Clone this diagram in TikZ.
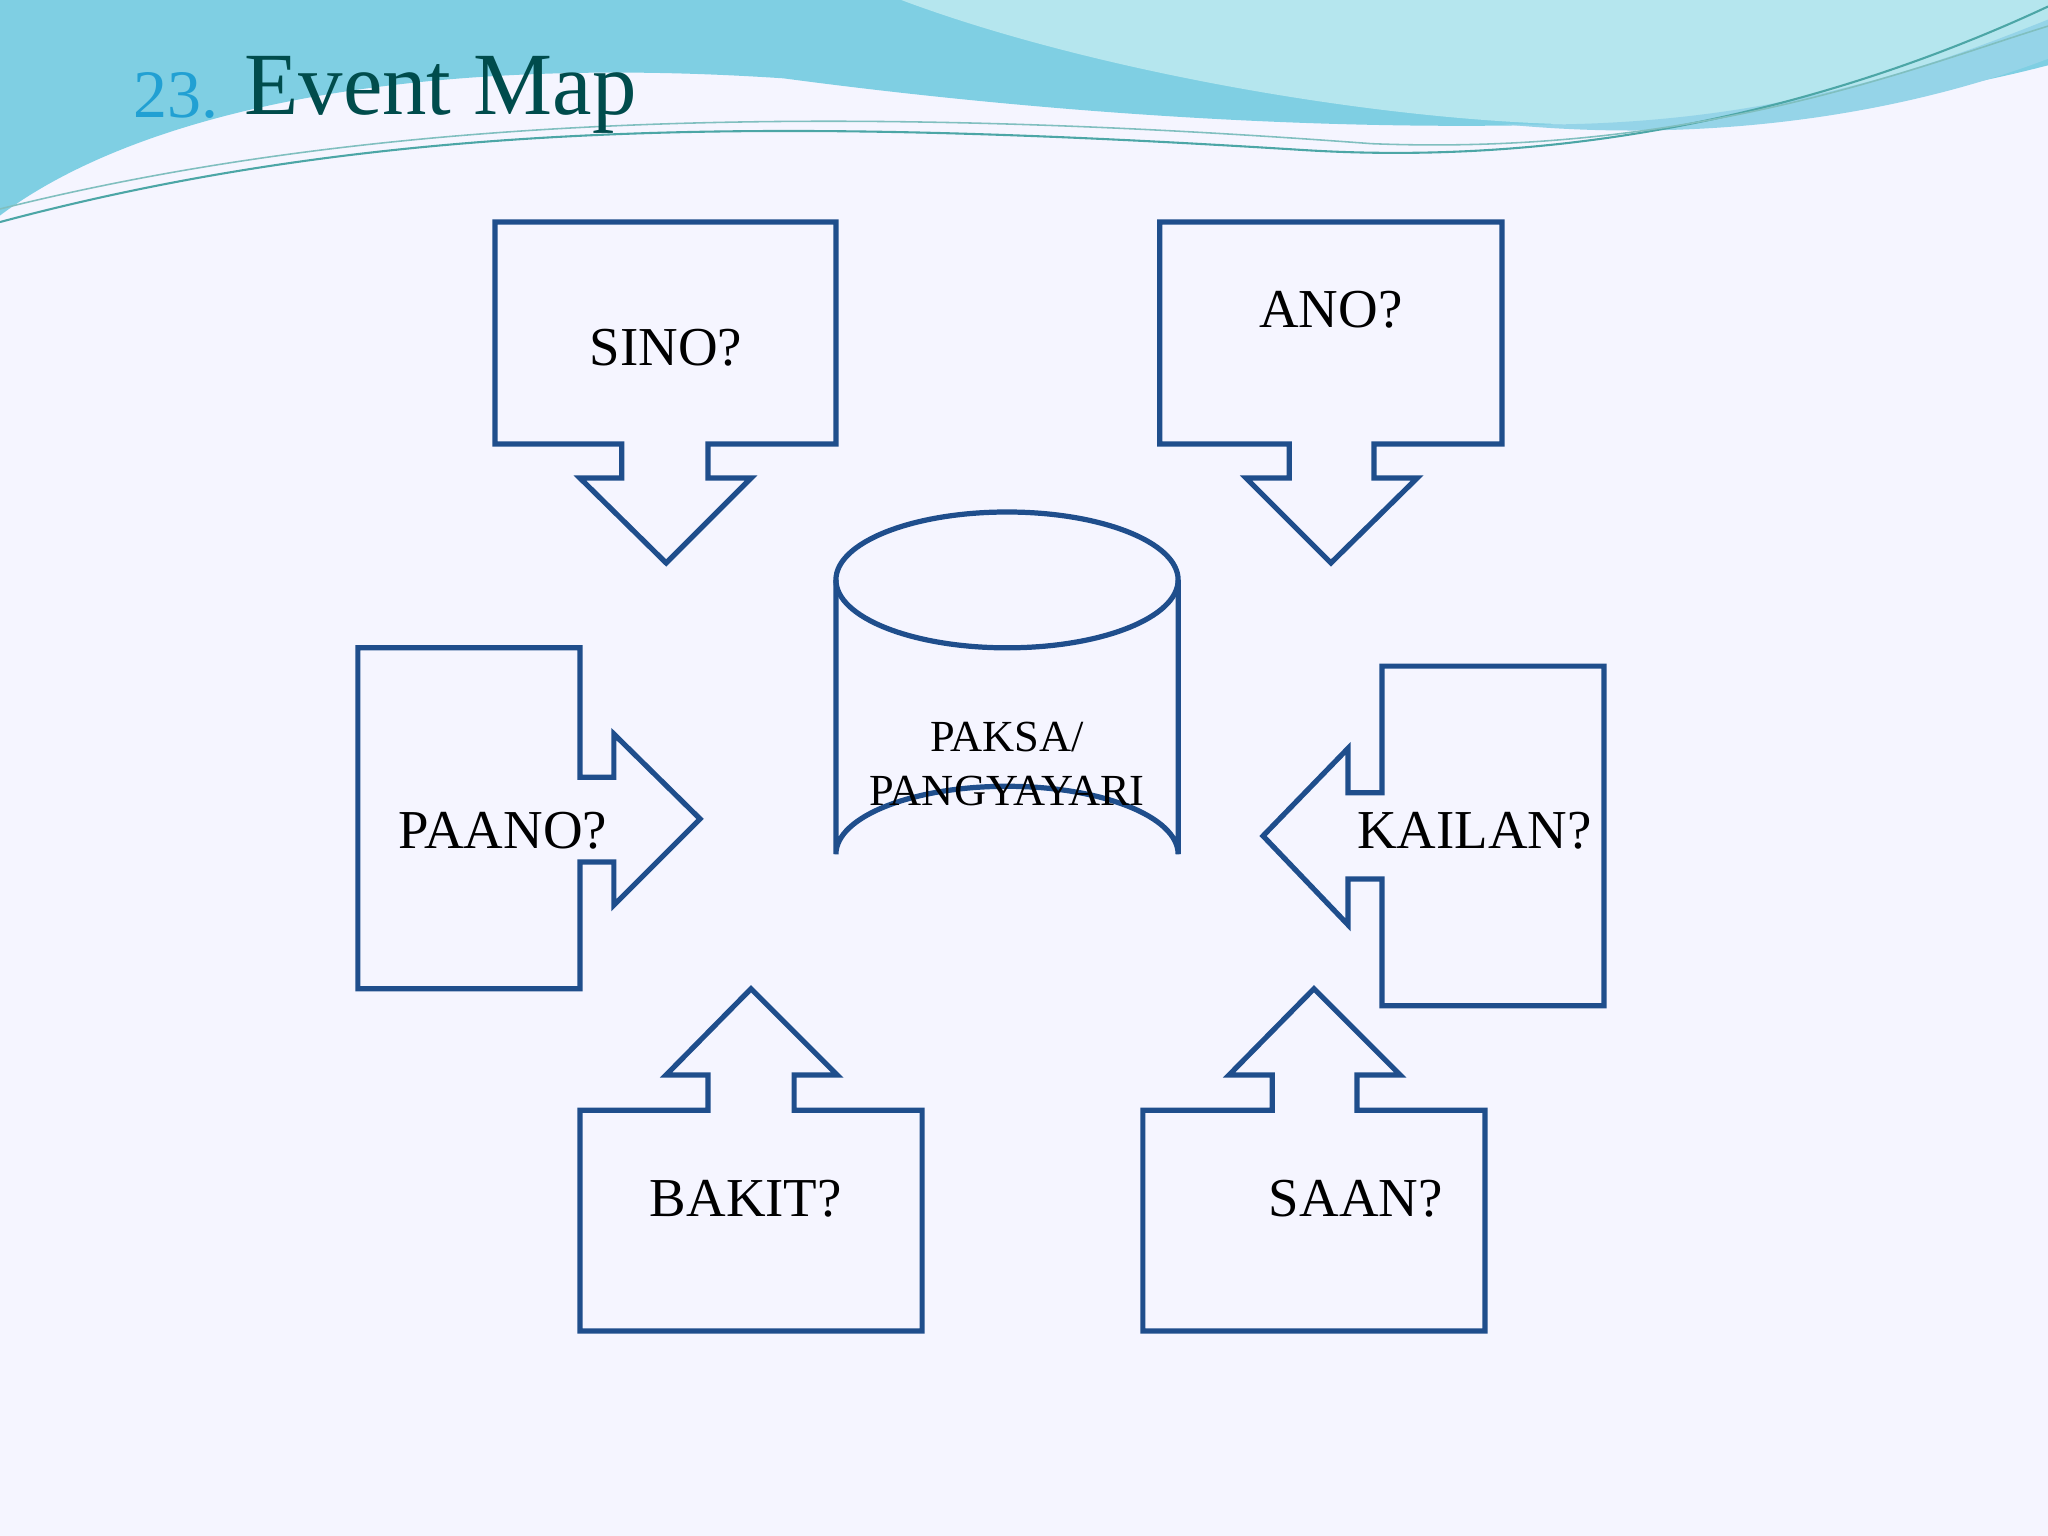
\documentclass[tikz,border=0pt]{standalone}
\usepackage{fontspec}
\setmainfont{Liberation Serif}
\begin{document}
\begin{tikzpicture}[x=0.5pt,y=-0.5pt,
  callout/.style={draw=myblue,line width=2pt,line join=miter},
  lbl/.style={font=\fontsize{21}{24}\selectfont,text=black}]
\definecolor{myblue}{HTML}{1F4E8C}
\definecolor{wave1}{HTML}{7FCFE3}
\definecolor{wave2}{HTML}{B5E6EE}
\definecolor{wave3}{HTML}{4FB8D8}
\fill[white!96!blue] (0,0) rectangle (1568,1176);
\useasboundingbox (0,0) rectangle (1568,1176);
% header waves
\fill[wave1] (0,0) -- (1568,0) -- (1568,50) .. controls (1300,120) and (900,100) .. (600,60) .. controls (300,40) and (100,90) .. (0,165) -- cycle;
\fill[wave2] (690,0) .. controls (850,60) and (1100,100) .. (1250,95) .. controls (1400,90) and (1500,40) .. (1568,20) -- (1568,0) -- cycle;
\fill[wave3!60] (1150,95) .. controls (1350,100) and (1480,50) .. (1568,15) -- (1568,45) .. controls (1450,90) and (1300,110) .. (1150,95) -- cycle;
\draw[teal!70,line width=0.8pt] (0,170) .. controls (300,90) and (600,90) .. (1000,115) .. controls (1250,130) and (1450,60) .. (1568,5);
\draw[teal!50,line width=0.6pt] (0,160) .. controls (300,85) and (650,80) .. (1050,110) .. controls (1300,120) and (1470,50) .. (1568,20);
\node[anchor=base west,font=\fontsize{26}{30}\selectfont,text=cyan!70!teal] (num) at (95,90) {23.};
\node[anchor=base west,font=\fontsize{34}{40}\selectfont,text=teal!60!black] (title) at (180,88) {Event Map};
% SINO
\draw[callout] (379,170) -- (640,170) -- (640,340) -- (542,340) -- (542,366) -- (575,366) -- (510,431) -- (444,366) -- (476,366) -- (476,340) -- (379,340) -- cycle;
\node[lbl] (sino) at (510,266) {SINO?};
% ANO
\draw[callout] (888,170) -- (1150,170) -- (1150,340) -- (1052,340) -- (1052,366) -- (1085,366) -- (1019,431) -- (954,366) -- (987,366) -- (987,340) -- (888,340) -- cycle;
\node[lbl] (ano) at (1019,237) {ANO?};
% PAANO
\draw[callout] (274,496) -- (444,496) -- (444,595) -- (470,595) -- (470,562) -- (536,627) -- (470,693) -- (470,660) -- (444,660) -- (444,757) -- (274,757) -- cycle;
\node[lbl] (paano) at (385,636) {PAANO?};
% KAILAN
\draw[callout] (1058,510) -- (1228,510) -- (1228,770) -- (1058,770) -- (1058,673) -- (1032,673) -- (1032,708) -- (967,640) -- (1032,573) -- (1032,607) -- (1058,607) -- cycle;
\node[lbl] (kailan) at (1129,636) {KAILAN?};
% BAKIT
\draw[callout] (444,850) -- (542,850) -- (542,823) -- (510,823) -- (575,757) -- (641,823) -- (608,823) -- (608,850) -- (706,850) -- (706,1019) -- (444,1019) -- cycle;
\node[lbl] (bakit) at (571,918) {BAKIT?};
% SAAN
\draw[callout] (875,850) -- (974,850) -- (974,823) -- (941,823) -- (1006,757) -- (1072,823) -- (1039,823) -- (1039,850) -- (1137,850) -- (1137,1019) -- (875,1019) -- cycle;
\node[lbl] (saan) at (1038,918) {SAAN?};
% cylinder
\draw[callout] (640,444) -- (640,654) arc[start angle=180,end angle=360,x radius=131,y radius=52] -- (902,444);
\draw[callout] (771,444) ellipse[x radius=131,y radius=52];
\node[lbl,align=center,font=\fontsize{17}{21}\selectfont] (paksa) at (771,585) {PAKSA/\\PANGYAYARI};
\end{tikzpicture}
\end{document}
